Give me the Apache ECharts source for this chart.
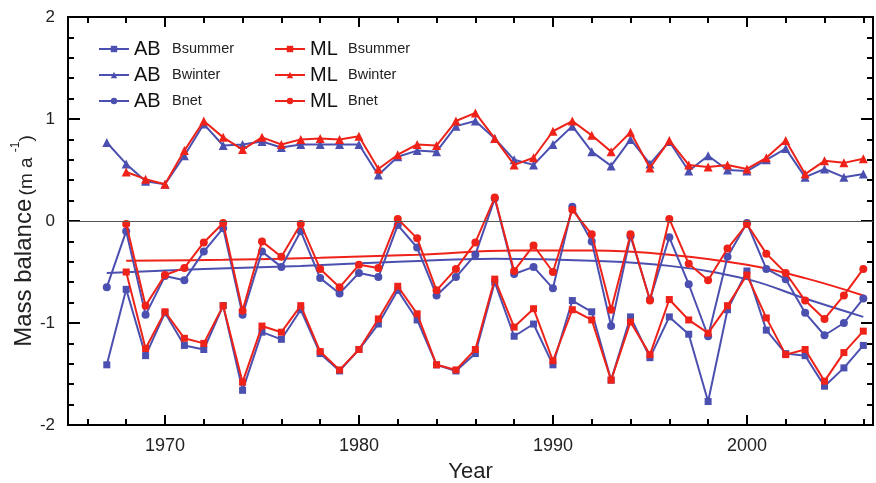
<!DOCTYPE html>
<html>
<head>
<meta charset="utf-8">
<script src="https://cdn.jsdelivr.net/npm/echarts@6/dist/echarts.min.js"></script>
<style>
    html, body { margin: 0; padding: 0; background: #fff; }
    #chart { width: 876px; height: 483px; }
</style>
</head>
<body>
<div id="chart"></div>
<script>
    // years
    const abYears = []
    for (let y = 1967; y <= 2006; y++) abYears.push(y)
    const mlYears = abYears.slice(1)

    // mass balance values (m a-1)
    const abSummer = [-1.41, -0.67, -1.32, -0.90, -1.22, -1.26, -0.83, -1.66, -1.09, -1.16,
        -0.87, -1.30, -1.47, -1.26, -1.01, -0.68, -0.97, -1.41, -1.47, -1.30,
        -0.60, -1.13, -1.01, -1.41, -0.78, -0.89, -1.56, -0.94, -1.34, -0.94,
        -1.11, -1.77, -0.87, -0.49, -1.07, -1.30, -1.32, -1.62, -1.44, -1.22]
    const abWinter = [0.77, 0.56, 0.39, 0.36, 0.64, 0.95, 0.74, 0.75, 0.78, 0.72,
        0.75, 0.75, 0.75, 0.75, 0.45, 0.63, 0.69, 0.68, 0.93, 0.98,
        0.81, 0.60, 0.55, 0.75, 0.93, 0.68, 0.54, 0.80, 0.56, 0.78,
        0.49, 0.64, 0.50, 0.49, 0.60, 0.71, 0.43, 0.51, 0.43, 0.46]
    const abNet = [-0.65, -0.10, -0.92, -0.54, -0.58, -0.30, -0.07, -0.92, -0.30, -0.45,
        -0.10, -0.56, -0.71, -0.51, -0.55, -0.04, -0.26, -0.73, -0.55, -0.33,
        0.22, -0.52, -0.45, -0.66, 0.14, -0.20, -1.03, -0.15, -0.77, -0.16,
        -0.62, -1.13, -0.35, -0.02, -0.47, -0.57, -0.90, -1.12, -1.00, -0.76]
    const mlSummer = [-0.50, -1.25, -0.89, -1.15, -1.20, -0.83, -1.58, -1.03, -1.09, -0.83,
        -1.28, -1.46, -1.26, -0.96, -0.64, -0.91, -1.41, -1.46, -1.26, -0.57,
        -1.04, -0.86, -1.37, -0.87, -0.97, -1.56, -0.99, -1.31, -0.77, -0.97,
        -1.10, -0.83, -0.53, -0.95, -1.31, -1.26, -1.57, -1.29, -1.08]
    const mlWinter = [0.48, 0.41, 0.36, 0.69, 0.98, 0.82, 0.70, 0.82, 0.75, 0.80,
        0.81, 0.80, 0.83, 0.51, 0.65, 0.75, 0.74, 0.98, 1.06, 0.81,
        0.55, 0.62, 0.88, 0.98, 0.84, 0.68, 0.87, 0.52, 0.79, 0.55,
        0.53, 0.55, 0.51, 0.62, 0.79, 0.46, 0.59, 0.57, 0.61]
    const mlNet = [-0.03, -0.83, -0.53, -0.46, -0.21, -0.02, -0.88, -0.20, -0.35, -0.03,
        -0.47, -0.65, -0.43, -0.46, 0.02, -0.17, -0.68, -0.47, -0.21, 0.23,
        -0.49, -0.24, -0.50, 0.11, -0.13, -0.87, -0.13, -0.78, 0.02, -0.42,
        -0.58, -0.27, -0.03, -0.32, -0.51, -0.78, -0.96, -0.73, -0.47]

    // fitted trend curves of Bnet, read at a few years
    const abTrendYears = [1967, 1972, 1977, 1982, 1987, 1992, 1996, 2000, 2003, 2006]
    const abTrend = [-0.51, -0.47, -0.44, -0.40, -0.37, -0.39, -0.44, -0.57, -0.76, -0.94]
    const mlTrendYears = [1968, 1973, 1978, 1983, 1988, 1992, 1996, 2000, 2003, 2006]
    const mlTrend = [-0.39, -0.38, -0.36, -0.33, -0.29, -0.29, -0.33, -0.43, -0.56, -0.73]

    // tick labels
    const decadeTicks = [1970, 1980, 1990, 2000]
    const evenYearTicks = []
    for (let y = 1966; y <= 2006; y += 2) evenYearTicks.push(y)

    const blue = '#4b50b0'
    const red = '#ee2218'
    const sans = "'Liberation Sans', Arial, sans-serif"

    const pairs = (xs, ys) => xs.map((x, i) => [x, ys[i]])

    const lineSeries = (name, years, vals, color, symbol, size, z) => ({
        name: name,
        type: 'line',
        data: pairs(years, vals),
        symbol: symbol,
        symbolSize: size,
        z: z,
        itemStyle: { color: color },
        lineStyle: { color: color, width: 2 }
    })

    const axisLine = { show: true, onZero: false, lineStyle: { color: '#000', width: 2 } }
    const tickStyle = { color: '#000', width: 2 }

    // x axes: bottom/top, one for decade ticks and one for the short even-year ticks
    const xAxisDef = (pos, ticks, len, labels) => ({
        type: 'value', min: 1965, max: 2006.5, position: pos,
        splitLine: { show: false },
        axisLine: axisLine,
        axisTick: { show: true, inside: true, length: len, customValues: ticks, lineStyle: tickStyle },
        axisLabel: labels
            ? { show: true, customValues: decadeTicks, formatter: v => String(v), margin: 12, color: '#222', fontSize: 18, fontFamily: sans }
            : { show: false }
    })

    const yAxisDef = (pos, labels) => ({
        type: 'value', min: -2, max: 2, interval: 1, position: pos,
        splitLine: { show: false },
        axisLine: axisLine,
        axisTick: { show: true, inside: true, length: 12, lineStyle: tickStyle },
        minorTick: { show: true, splitNumber: 5, length: 6, lineStyle: tickStyle },
        axisLabel: labels
            ? { show: true, margin: 13, color: '#222', fontSize: 17, fontFamily: sans }
            : { show: false }
    })

    const xBottom = xAxisDef('bottom', decadeTicks, 10, true)
    Object.assign(xBottom, {
        name: 'Year', nameLocation: 'middle', nameGap: 36,
        nameTextStyle: { color: '#222', fontSize: 22, fontFamily: sans }
    })

    const chart = echarts.init(document.getElementById('chart'))
    chart.setOption({
        animation: false,
        grid: { left: 68, right: 3, top: 17, bottom: 58, containLabel: false, outerBoundsMode: 'none' },
        xAxis: [
            xBottom,
            xAxisDef('bottom', evenYearTicks, 6, false),
            xAxisDef('top', decadeTicks, 10, false),
            xAxisDef('top', evenYearTicks, 6, false)
        ],
        yAxis: [yAxisDef('left', true), yAxisDef('right', false)],
        legend: [0, 1].map(i => ({
            orient: 'vertical',
            left: i === 0 ? 93 : 269,
            top: 34,
            itemWidth: 30,
            itemHeight: 8,
            itemGap: 6,
            data: i === 0 ? ['AB Bsummer', 'AB Bwinter', 'AB Bnet'] : ['ML Bsummer', 'ML Bwinter', 'ML Bnet'],
            formatter: name => {
                const p = name.split(' ')
                return '{g|' + p[0] + '}{b|' + p[1] + '}'
            },
            textStyle: {
                rich: {
                    g: { fontSize: 20, color: '#111', fontFamily: sans, width: 38, lineHeight: 17 },
                    b: { fontSize: 14.5, color: '#222', fontFamily: sans, lineHeight: 17 }
                }
            }
        })),
        graphic: [{
            type: 'text',
            x: 23, y: 241,
            rotation: Math.PI / 2,
            style: {
                text: '{m|Mass balance} {u|(m a }{s|-1}{u|)}',
                align: 'center',
                verticalAlign: 'middle',
                fill: '#222',
                rich: {
                    m: { fontSize: 24, fontFamily: sans, fill: '#222', lineHeight: 26, verticalAlign: 'bottom' },
                    u: { fontSize: 19, fontFamily: sans, fill: '#222', lineHeight: 26, verticalAlign: 'bottom' },
                    s: { fontSize: 12, fontFamily: sans, fill: '#222', lineHeight: 26, verticalAlign: 'top' }
                }
            }
        }],
        series: [
            Object.assign(lineSeries('AB Bsummer', abYears, abSummer, blue, 'rect', 7, 3), {
                markLine: {
                    silent: true, symbol: 'none', label: { show: false },
                    lineStyle: { color: '#555', width: 1.2, type: 'solid' },
                    emphasis: { disabled: true },
                    data: [{ yAxis: 0 }]
                }
            }),
            lineSeries('AB Bwinter', abYears, abWinter, blue, 'triangle', 9, 3),
            lineSeries('AB Bnet', abYears, abNet, blue, 'circle', 8, 3),
            lineSeries('ML Bsummer', mlYears, mlSummer, red, 'rect', 7, 4),
            lineSeries('ML Bwinter', mlYears, mlWinter, red, 'triangle', 9, 4),
            lineSeries('ML Bnet', mlYears, mlNet, red, 'circle', 8, 4),
            {
                name: 'AB trend', type: 'line', data: pairs(abTrendYears, abTrend),
                smooth: 0.4, showSymbol: false, symbol: 'none', z: 2,
                lineStyle: { color: blue, width: 2 }
            },
            {
                name: 'ML trend', type: 'line', data: pairs(mlTrendYears, mlTrend),
                smooth: 0.4, showSymbol: false, symbol: 'none', z: 2,
                lineStyle: { color: red, width: 2 }
            }
        ]
    })
</script>
</body>
</html>
